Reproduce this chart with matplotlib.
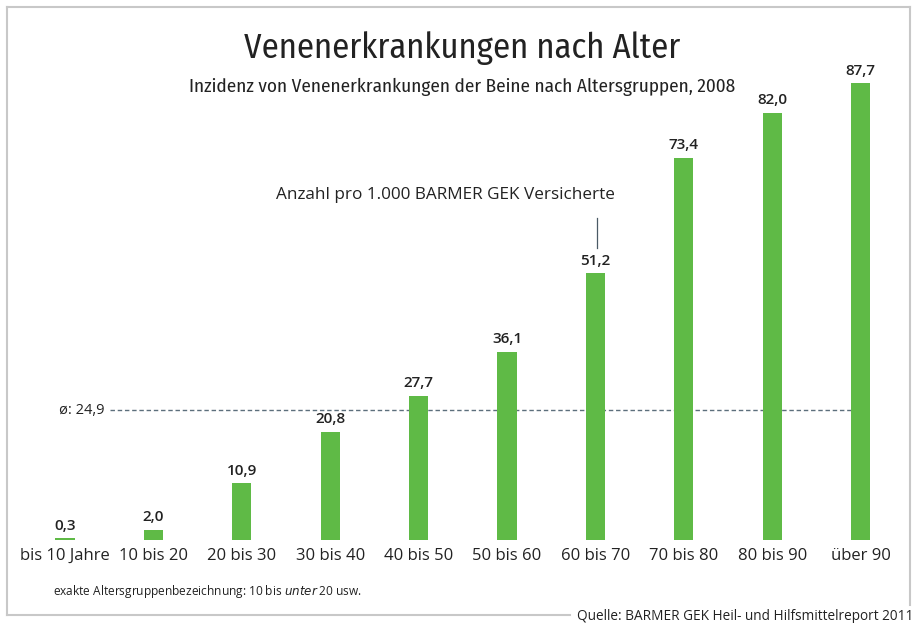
import matplotlib
matplotlib.use("Agg")
import matplotlib.pyplot as plt
from matplotlib.lines import Line2D

# data
groups = ["bis 10 Jahre", "10 bis 20", "20 bis 30", "30 bis 40", "40 bis 50",
          "50 bis 60", "60 bis 70", "70 bis 80", "80 bis 90", "über 90"]
values = [0.3, 2.0, 10.9, 20.8, 27.7, 36.1, 51.2, 73.4, 82.0, 87.7]
labels = ["0,3", "2,0", "10,9", "20,8", "27,7", "36,1", "51,2", "73,4", "82,0", "87,7"]
mean_value = 24.9
mean_label = "ø: 24,9"

green = "#5fba46"
text_col = "#222222"
narrow = ["Fira Sans Condensed", "DejaVu Sans"]
body = ["Open Sans", "DejaVu Sans"]

W, H = 917, 623
fig = plt.figure(figsize=(W / 100, H / 100), dpi=100)

# axes placed in pixel terms: bars centred at 65 + 88.4*i, baseline at y=540
left = (65 - 44.2) / W
width = 88.4 * 10 / W
bottom = (H - 540) / H
height = 521 / H
ax = fig.add_axes([left, bottom, width, height])
ax.set_xlim(-0.5, 9.5)
ax.set_ylim(0, 100)
for s in ax.spines.values():
    s.set_visible(False)
ax.set_yticks([])

x = list(range(len(values)))
ax.bar(x, values, width=0.215, color=green, zorder=3)

for xi, v, lab in zip(x, values, labels):
    ax.annotate(lab, (xi, v), xytext=(0, 4), textcoords="offset points",
                ha="center", va="bottom", fontsize=11, color=text_col,
                family=body, weight="semibold")

ax.set_xticks(x)
ax.set_xticklabels(groups, fontsize=12, color=text_col, family=body)
ax.tick_params(axis="x", length=0, pad=6)

# average line
ax.hlines(mean_value, 0.51, 8.9, colors="#5c6f7c", linestyles=(0, (3.2, 2)),
          linewidth=1.0, zorder=1)
ax.text(0.45, mean_value, mean_label, ha="right", va="center",
        fontsize=10.5, color=text_col, family=body)

# annotation above 60-70 bar
ax.text(4.3, 66.2, "Anzahl pro 1.000 BARMER GEK Versicherte", ha="center",
        va="center", fontsize=12.3, color=text_col, family=body)
ax.plot([6.02, 6.02], [61.8, 56.0], color="#4a5a66", linewidth=0.9)

# titles
fig.text(462 / W, 1 - 48 / H, "Venenerkrankungen nach Alter", ha="center",
         va="center", fontsize=24.9, color=text_col, family=narrow)
fig.text(462 / W, 1 - 87 / H,
         "Inzidenz von Venenerkrankungen der Beine nach Altersgruppen, 2008",
         ha="center", va="center", fontsize=13.8, color=text_col, family=narrow)

# footnote and source
fig.text(53 / W, 1 - 592 / H,
         "exakte Altersgruppenbezeichnung: 10 bis $\\it{unter}$ 20 usw.",
         ha="left", va="center", fontsize=8.55, color=text_col, family=body)
fig.text(913 / W, 1 - 616 / H, "Quelle: BARMER GEK Heil- und Hilfsmittelreport 2011",
         ha="right", va="center", fontsize=9.85, color=text_col, family=body)

# frame round the chart, broken at bottom right by the source line
frame = "#c8c8c8"
fx0, fx1, fy0, fy1 = 7 / W, 910 / W, 1 - 7 / H, 1 - 615 / H
fig.add_artist(Line2D([fx0, fx1], [fy0, fy0], color=frame, lw=1.5))
fig.add_artist(Line2D([fx0, fx0], [fy0, fy1], color=frame, lw=1.5))
fig.add_artist(Line2D([fx1, fx1], [fy0, 1 - 605 / H], color=frame, lw=1.5))
fig.add_artist(Line2D([fx0, 570 / W], [fy1, fy1], color=frame, lw=1.5))

fig.savefig("out.png", dpi=100)
